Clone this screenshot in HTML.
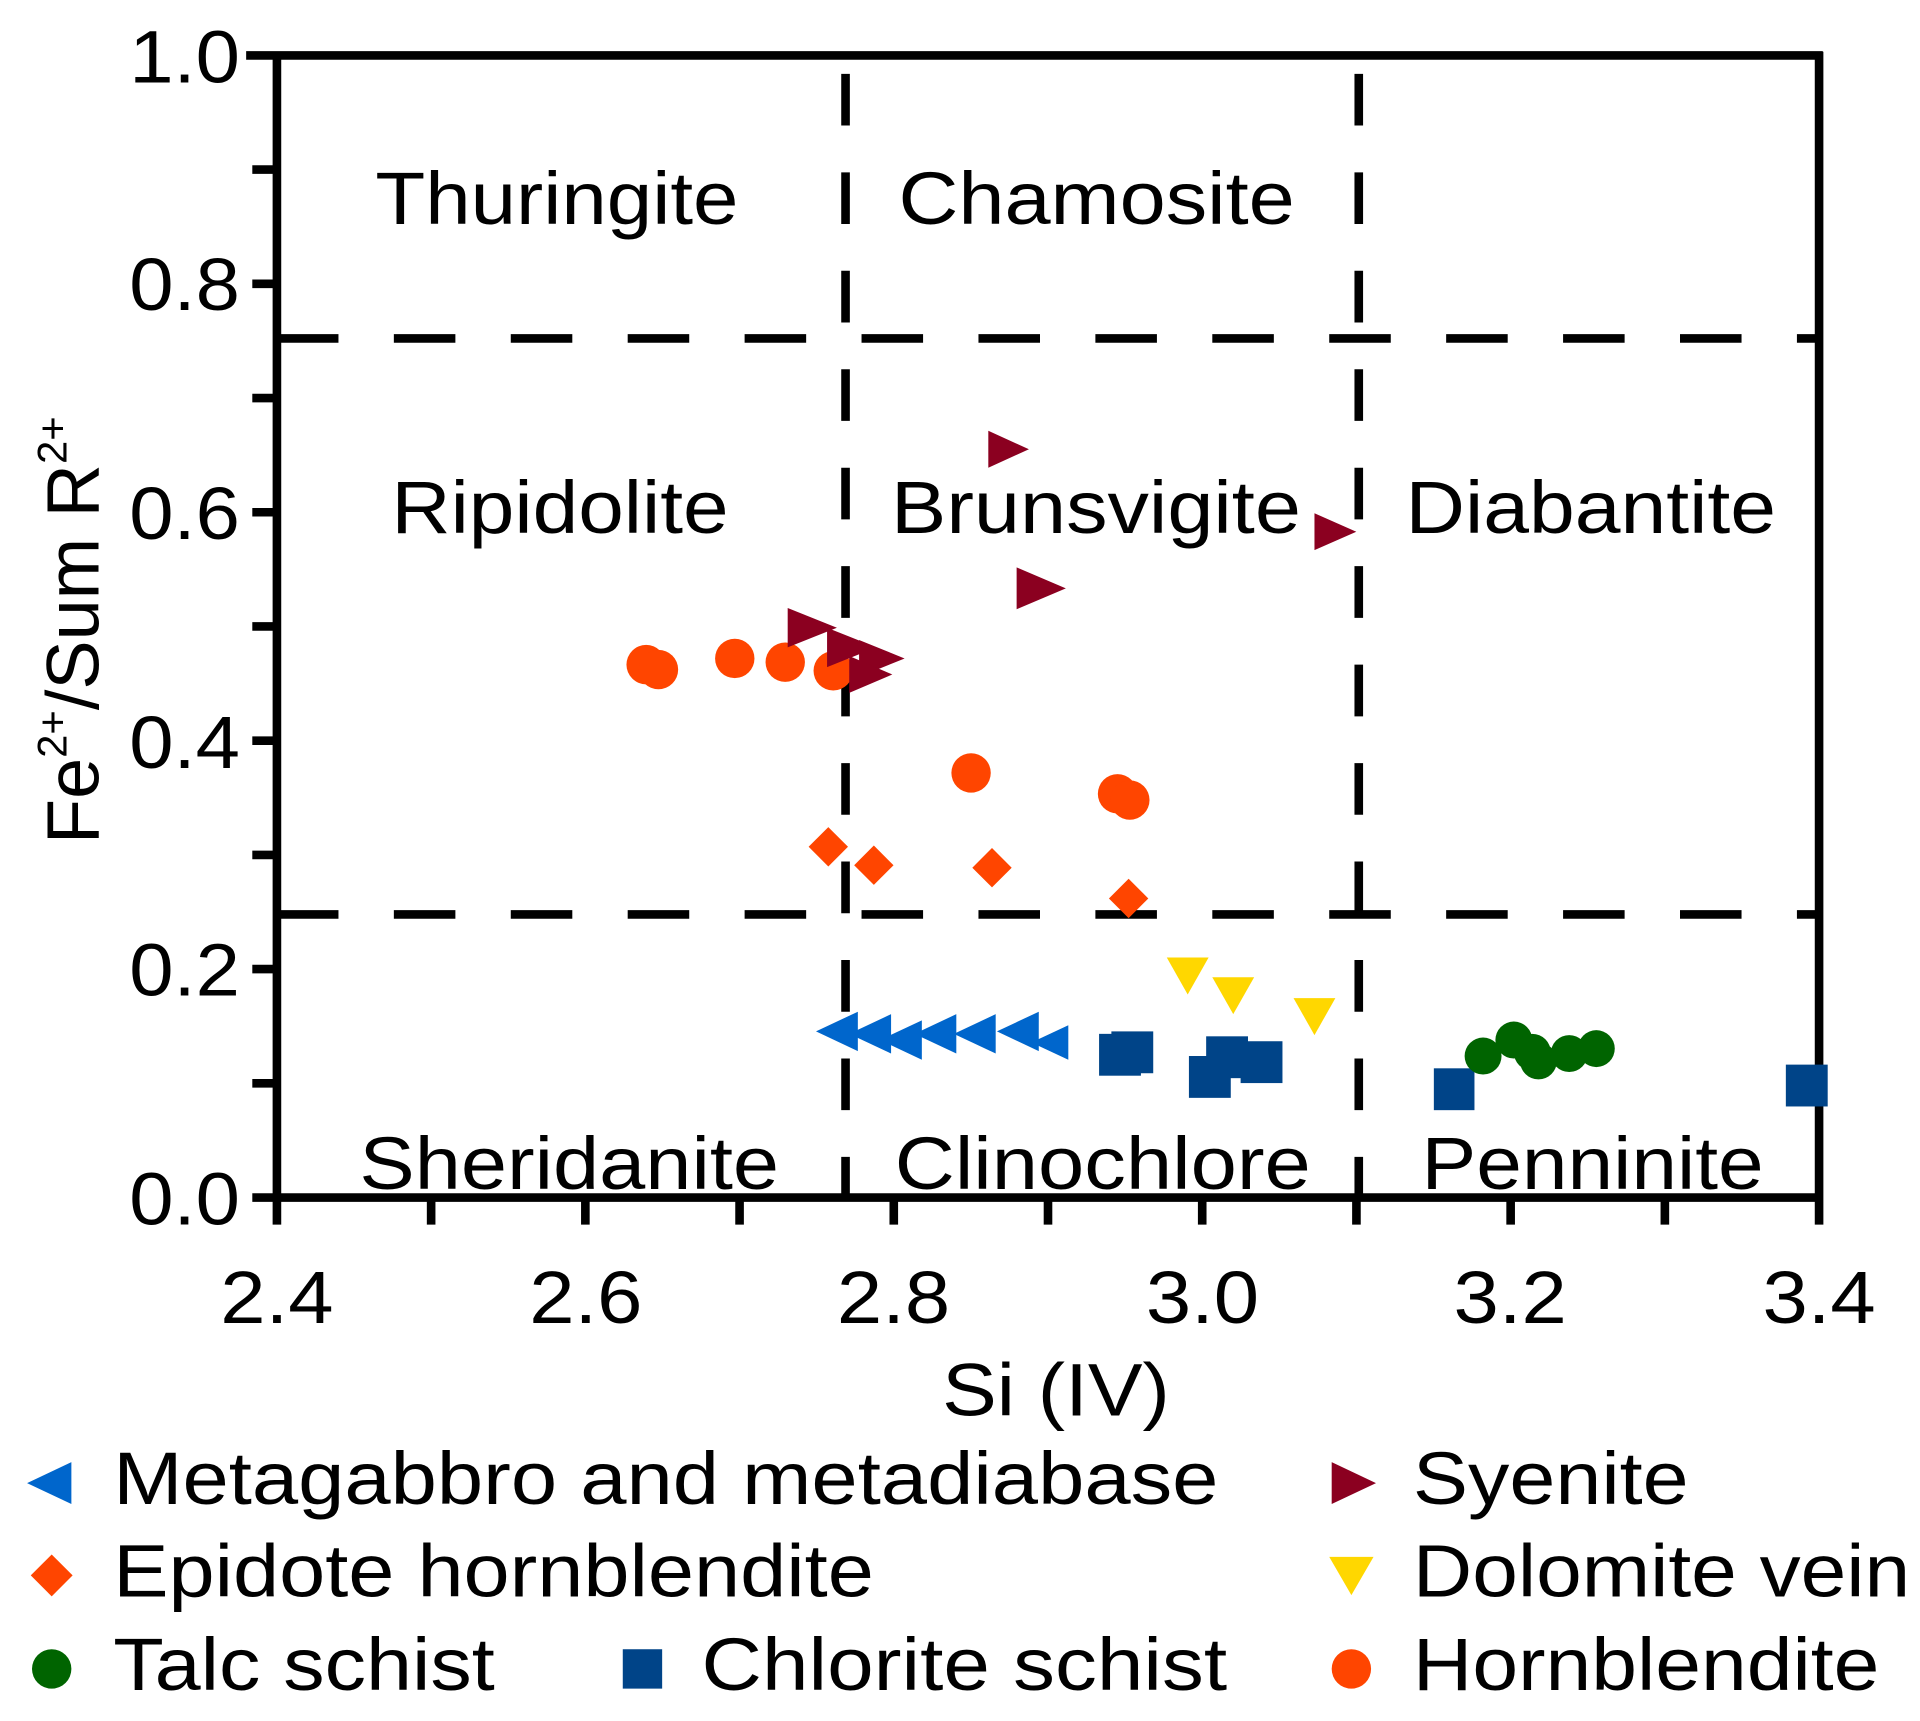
<!DOCTYPE html>
<html><head><meta charset="utf-8"><style>html,body{margin:0;padding:0;background:#fff}svg{display:block}</style></head>
<body>
<svg width="1920" height="1721" viewBox="0 0 1560 1398.3" xmlns="http://www.w3.org/2000/svg" font-family="Liberation Sans, Arial, sans-serif">
<rect width="1560" height="1400" fill="#fff"/>
<g stroke="#000" stroke-width="7" fill="none">
<line x1="225" y1="275" x2="1478" y2="275" stroke-dasharray="50 45"/>
<line x1="225" y1="743" x2="1478" y2="743" stroke-dasharray="50 45"/>
<line x1="687" y1="60" x2="687" y2="973" stroke-dasharray="42 38"/>
<line x1="1104" y1="60" x2="1104" y2="973" stroke-dasharray="42 38"/>
</g>
<g stroke="#000" stroke-width="7" fill="none">
<line x1="200" y1="45" x2="1481" y2="45"/>
<line x1="225" y1="45" x2="225" y2="976"/>
<line x1="222" y1="973" x2="1481" y2="973"/>
<line x1="1478" y1="42" x2="1478" y2="995"/>
<line x1="205" y1="137.8" x2="225" y2="137.8"/><line x1="205" y1="230.6" x2="225" y2="230.6"/>
<line x1="205" y1="323.4" x2="225" y2="323.4"/><line x1="205" y1="416.2" x2="225" y2="416.2"/>
<line x1="205" y1="509" x2="225" y2="509"/><line x1="205" y1="601.8" x2="225" y2="601.8"/>
<line x1="205" y1="694.6" x2="225" y2="694.6"/><line x1="205" y1="787.4" x2="225" y2="787.4"/>
<line x1="205" y1="880.2" x2="225" y2="880.2"/><line x1="205" y1="973" x2="225" y2="973"/>
<line x1="225" y1="973" x2="225" y2="995"/><line x1="350.3" y1="973" x2="350.3" y2="995"/>
<line x1="475.6" y1="973" x2="475.6" y2="995"/><line x1="600.9" y1="973" x2="600.9" y2="995"/>
<line x1="726.2" y1="973" x2="726.2" y2="995"/><line x1="851.5" y1="973" x2="851.5" y2="995"/>
<line x1="976.8" y1="973" x2="976.8" y2="995"/><line x1="1102.1" y1="973" x2="1102.1" y2="995"/>
<line x1="1227.4" y1="973" x2="1227.4" y2="995"/><line x1="1352.7" y1="973" x2="1352.7" y2="995"/>
</g>
<g font-size="60" fill="#000" text-anchor="end">
<text x="195" y="67" textLength="90" lengthAdjust="spacingAndGlyphs">1.0</text>
<text x="195" y="252" textLength="90" lengthAdjust="spacingAndGlyphs">0.8</text>
<text x="195" y="438" textLength="90" lengthAdjust="spacingAndGlyphs">0.6</text>
<text x="195" y="624" textLength="90" lengthAdjust="spacingAndGlyphs">0.4</text>
<text x="195" y="809" textLength="90" lengthAdjust="spacingAndGlyphs">0.2</text>
<text x="195" y="995" textLength="90" lengthAdjust="spacingAndGlyphs">0.0</text>
</g>
<g font-size="60" fill="#000" text-anchor="middle">
<text x="225" y="1075" textLength="92" lengthAdjust="spacingAndGlyphs">2.4</text>
<text x="476" y="1075" textLength="92" lengthAdjust="spacingAndGlyphs">2.6</text>
<text x="726" y="1075" textLength="92" lengthAdjust="spacingAndGlyphs">2.8</text>
<text x="977" y="1075" textLength="92" lengthAdjust="spacingAndGlyphs">3.0</text>
<text x="1227" y="1075" textLength="92" lengthAdjust="spacingAndGlyphs">3.2</text>
<text x="1478" y="1075" textLength="92" lengthAdjust="spacingAndGlyphs">3.4</text>
<text x="858" y="1150" textLength="185" lengthAdjust="spacingAndGlyphs">Si (IV)</text>
</g>
<text transform="translate(80,512) rotate(-90)" font-size="60" text-anchor="middle">Fe<tspan font-size="34" dy="-26">2+</tspan><tspan dy="26">/Sum R</tspan><tspan font-size="34" dy="-26">2+</tspan></text>
<g font-size="60" fill="#000">
<text x="305" y="182" textLength="295" lengthAdjust="spacingAndGlyphs">Thuringite</text>
<text x="730" y="182" textLength="322" lengthAdjust="spacingAndGlyphs">Chamosite</text>
<text x="318" y="433" textLength="274" lengthAdjust="spacingAndGlyphs">Ripidolite</text>
<text x="724" y="433" textLength="333" lengthAdjust="spacingAndGlyphs">Brunsvigite</text>
<text x="1142" y="433" textLength="301" lengthAdjust="spacingAndGlyphs">Diabantite</text>
<text x="292" y="966" textLength="341" lengthAdjust="spacingAndGlyphs">Sheridanite</text>
<text x="727" y="966" textLength="338" lengthAdjust="spacingAndGlyphs">Clinochlore</text>
<text x="1155" y="966" textLength="278" lengthAdjust="spacingAndGlyphs">Penninite</text>
</g>
<g fill="#ff4500">
<circle cx="525" cy="540" r="16"/><circle cx="535" cy="544" r="16"/><circle cx="597" cy="535" r="16"/>
<circle cx="638" cy="538" r="16"/><circle cx="677" cy="545" r="16"/><circle cx="789" cy="628" r="16"/>
<circle cx="908" cy="645" r="16"/><circle cx="918" cy="650" r="16"/>
</g>
<g fill="#ff4500">
<path d="M673 672 L689 688 L673 704 L657 688Z"/><path d="M710 687 L726 703 L710 719 L694 703Z"/>
<path d="M806 689 L822 705 L806 721 L790 705Z"/><path d="M917 714 L933 730 L917 746 L901 730Z"/>
</g>
<g fill="#8b0020">
<path d="M803 350 L836 365 L803 380Z"/><path d="M1068 417 L1102 432 L1068 447Z"/>
<path d="M826 461 L866 478 L826 495Z"/><path d="M640 494 L680 510 L640 526Z"/>
<path d="M672 510 L712 526 L672 542Z"/><path d="M698 520 L735 535 L698 550Z"/><path d="M690 533 L725 548 L690 563Z"/>
</g>
<g fill="#ffd700">
<path d="M948 778 L982 778 L965 808Z"/><path d="M985 794 L1019 794 L1002 824Z"/><path d="M1051 811 L1085 811 L1068 841Z"/>
</g>
<g fill="#0066cc">
<path d="M663 838 L697 822 L697 854Z"/><path d="M690 840 L724 824 L724 856Z"/><path d="M715 845 L749 829 L749 861Z"/>
<path d="M743 840 L777 824 L777 856Z"/><path d="M775 840 L809 824 L809 856Z"/><path d="M810 838 L844 822 L844 854Z"/>
<path d="M838 847 L868 833 L868 861Z"/>
</g>
<g fill="#004488">
<rect x="893" y="840" width="34" height="34"/><rect x="903" y="838" width="34" height="34"/>
<rect x="966" y="858" width="34" height="34"/><rect x="980" y="842" width="34" height="34"/>
<rect x="1008" y="846" width="34" height="34"/><rect x="1165" y="868" width="33" height="34"/>
<rect x="1451" y="865" width="34" height="34"/>
</g>
<g fill="#006400">
<circle cx="1205" cy="858" r="15"/><circle cx="1230" cy="845" r="15"/><circle cx="1250" cy="862" r="15"/>
<circle cx="1275" cy="856" r="15"/><circle cx="1297" cy="852" r="15"/><circle cx="1245" cy="855" r="15"/>
</g>
<path d="M22 1205 L58 1188 L58 1222Z" fill="#0066cc"/>
<text x="92" y="1222" font-size="60" textLength="898" lengthAdjust="spacingAndGlyphs">Metagabbro and metadiabase</text>
<path d="M1082 1188 L1118 1205 L1082 1222Z" fill="#8b0020"/>
<text x="1148" y="1222" font-size="60" textLength="224" lengthAdjust="spacingAndGlyphs">Syenite</text>
<path d="M42 1263 L59 1280 L42 1297 L25 1280Z" fill="#ff4500"/>
<text x="92" y="1297" font-size="60" textLength="618" lengthAdjust="spacingAndGlyphs">Epidote hornblendite</text>
<path d="M1080 1265 L1116 1265 L1098 1296Z" fill="#ffd700"/>
<text x="1148" y="1297" font-size="60" textLength="404" lengthAdjust="spacingAndGlyphs">Dolomite vein</text>
<circle cx="42" cy="1356" r="16" fill="#006400"/>
<text x="92" y="1373" font-size="60" textLength="310" lengthAdjust="spacingAndGlyphs">Talc schist</text>
<rect x="506" y="1340" width="32" height="32" fill="#004488"/>
<text x="570" y="1373" font-size="60" textLength="427" lengthAdjust="spacingAndGlyphs">Chlorite schist</text>
<circle cx="1098" cy="1356" r="16" fill="#ff4500"/>
<text x="1148" y="1373" font-size="60" textLength="379" lengthAdjust="spacingAndGlyphs">Hornblendite</text>
</svg>
</body></html>
